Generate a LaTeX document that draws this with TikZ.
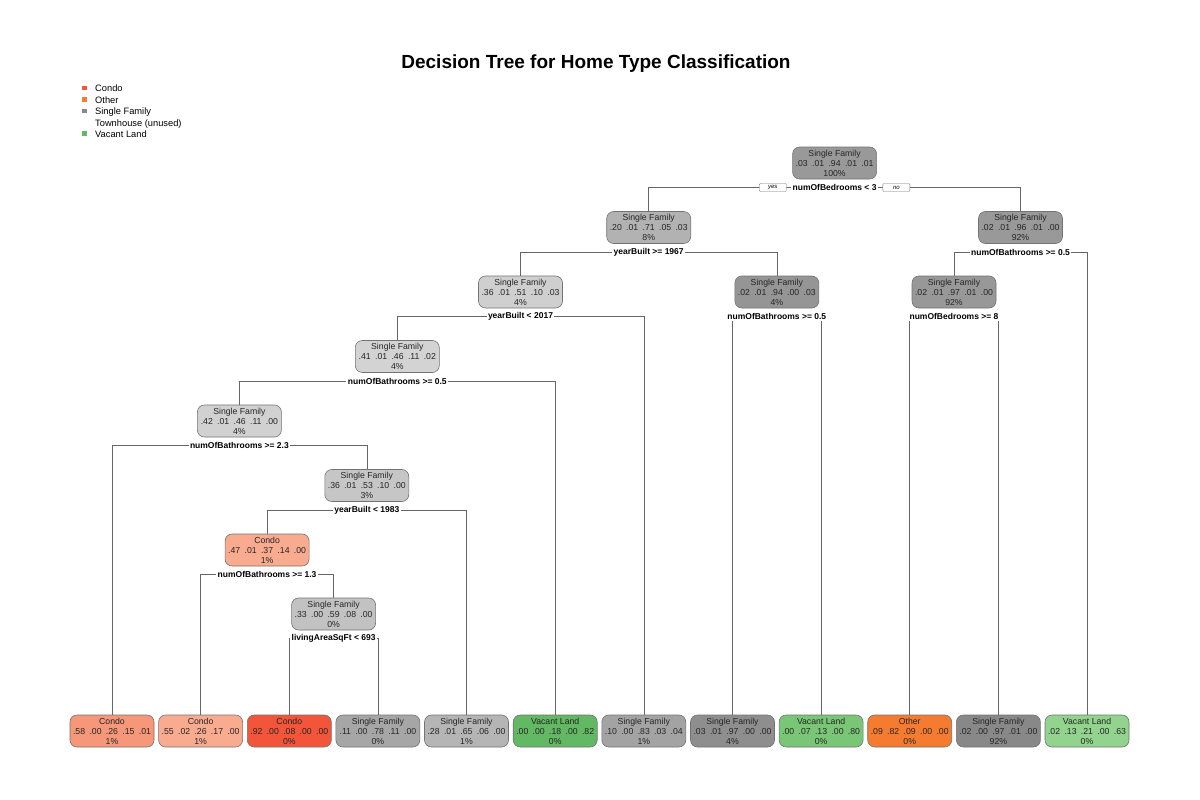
\documentclass[tikz,border=0pt]{standalone}
\usepackage{fontspec}
\setmainfont{Liberation Sans}
\usepackage{xcolor}
\usetikzlibrary{positioning,backgrounds}

% node fills
\definecolor{sf94}{HTML}{999999}
\definecolor{sf71}{HTML}{B2B2B2}
\definecolor{sf51}{HTML}{CFCFCF}
\definecolor{sf46a}{HTML}{D3D3D3}
\definecolor{sf46b}{HTML}{D1D1D1}
\definecolor{sf53}{HTML}{C6C6C6}
\definecolor{sf59}{HTML}{C2C2C2}
\definecolor{sf94b}{HTML}{959595}
\definecolor{sf96}{HTML}{999999}
\definecolor{sf97}{HTML}{989898}
\definecolor{sf78}{HTML}{A6A6A6}
\definecolor{sf65}{HTML}{B5B5B5}
\definecolor{sf83}{HTML}{A3A3A3}
\definecolor{sf97a}{HTML}{8E8E8E}
\definecolor{sf97b}{HTML}{888888}
\definecolor{condo47}{HTML}{F8AB8E}
\definecolor{condo58}{HTML}{F69779}
\definecolor{condo55}{HTML}{F9AB90}
\definecolor{condo92}{HTML}{F2553A}
\definecolor{other82}{HTML}{F57B30}
\definecolor{vl82}{HTML}{63B863}
\definecolor{vl80}{HTML}{7AC677}
\definecolor{vl63}{HTML}{92D48D}

\newcommand{\probs}[5]{#1\hspace{0.5em}#2\hspace{0.5em}#3\hspace{0.5em}#4\hspace{0.5em}#5}

\begin{document}
\begin{tikzpicture}[x=1pt, y=-1pt,
    tnode/.style={draw=black!55, line width=0.6pt, rounded corners=7pt,
      minimum width=84pt, minimum height=32pt, inner sep=1pt, align=center,
      text=black!85, font=\fontsize{8.7}{10}\selectfont},
    split/.style={fill=white, inner sep=1.5pt, font=\bfseries\fontsize{8.5}{10}\selectfont},
    yesno/.style={draw=black!55, fill=white, line width=0.4pt, rounded corners=1pt,
      minimum width=27pt, minimum height=8pt, inner sep=0pt,
      font=\itshape\fontsize{6}{7}\selectfont},
    link/.style={draw=black!60, line width=0.6pt},
    legsq/.style={minimum width=5pt, minimum height=4.5pt, inner sep=0pt},
    legtxt/.style={anchor=base west, inner sep=0pt, font=\fontsize{9.3}{11}\selectfont}]
  \useasboundingbox (0,0) rectangle (1200,800);
  \begin{scope}[on background layer]
    \fill[white] (0,0) rectangle (1200,800);
  \end{scope}

  % title and legend
  \node[anchor=base, inner sep=0pt, font=\bfseries\fontsize{19}{23}\selectfont] (title)
    at (596,69) {Decision Tree for Home Type Classification};
  \node[legsq, fill=condo92] (kcondo) at (84.5,88) {};
  \node[legsq, fill=other82] (kother) at (84.5,99.5) {};
  \node[legsq, fill=sf97b] (ksf) at (84.5,111) {};
  \node[legsq, fill=vl82] (kvl) at (84.5,133.5) {};
  \node[legtxt] (tcondo) at (95,91.5) {Condo};
  \node[legtxt] (tother) at (95,103) {Other};
  \node[legtxt] (tsf) at (95,114.5) {Single Family};
  \node[legtxt] (ttown) at (95,126) {Townhouse (unused)};
  \node[legtxt] (tvl) at (95,137) {Vacant Land};

  % inner nodes
  \node[tnode, fill=sf94] (n1) at (834.6,163) {Single Family\\\probs{.03}{.01}{.94}{.01}{.01}\\100\%};
  \node[tnode, fill=sf71] (n2) at (648.7,227.5) {Single Family\\\probs{.20}{.01}{.71}{.05}{.03}\\8\%};
  \node[tnode, fill=sf96] (n3) at (1020.5,227.5) {Single Family\\\probs{.02}{.01}{.96}{.01}{.00}\\92\%};
  \node[tnode, fill=sf51] (n4) at (520.5,292) {Single Family\\\probs{.36}{.01}{.51}{.10}{.03}\\4\%};
  \node[tnode, fill=sf94b] (n5) at (776.8,292) {Single Family\\\probs{.02}{.01}{.94}{.00}{.03}\\4\%};
  \node[tnode, fill=sf97] (n6) at (954,292) {Single Family\\\probs{.02}{.01}{.97}{.01}{.00}\\92\%};
  \node[tnode, fill=sf46a] (n8) at (397.3,356.5) {Single Family\\\probs{.41}{.01}{.46}{.11}{.02}\\4\%};
  \node[tnode, fill=sf46b] (n16) at (239.4,421) {Single Family\\\probs{.42}{.01}{.46}{.11}{.00}\\4\%};
  \node[tnode, fill=sf53] (n33) at (366.8,485.5) {Single Family\\\probs{.36}{.01}{.53}{.10}{.00}\\3\%};
  \node[tnode, fill=condo47] (n66) at (267.1,550) {Condo\\\probs{.47}{.01}{.37}{.14}{.00}\\1\%};
  \node[tnode, fill=sf59] (n133) at (333.6,614) {Single Family\\\probs{.33}{.00}{.59}{.08}{.00}\\0\%};

  % leaves
  \node[tnode, fill=condo58] (n32) at (112,731) {Condo\\\probs{.58}{.00}{.26}{.15}{.01}\\1\%};
  \node[tnode, fill=condo55] (n132) at (200.6,731) {Condo\\\probs{.55}{.02}{.26}{.17}{.00}\\1\%};
  \node[tnode, fill=condo92] (n266) at (289.3,731) {Condo\\\probs{.92}{.00}{.08}{.00}{.00}\\0\%};
  \node[tnode, fill=sf78] (n267) at (377.9,731) {Single Family\\\probs{.11}{.00}{.78}{.11}{.00}\\0\%};
  \node[tnode, fill=sf65] (n67) at (466.5,731) {Single Family\\\probs{.28}{.01}{.65}{.06}{.00}\\1\%};
  \node[tnode, fill=vl82] (n17) at (555.2,731) {Vacant Land\\\probs{.00}{.00}{.18}{.00}{.82}\\0\%};
  \node[tnode, fill=sf83] (n9) at (643.8,731) {Single Family\\\probs{.10}{.00}{.83}{.03}{.04}\\1\%};
  \node[tnode, fill=sf97a] (n10) at (732.5,731) {Single Family\\\probs{.03}{.01}{.97}{.00}{.00}\\4\%};
  \node[tnode, fill=vl80] (n11) at (821.1,731) {Vacant Land\\\probs{.00}{.07}{.13}{.00}{.80}\\0\%};
  \node[tnode, fill=other82] (n12) at (909.7,731) {Other\\\probs{.09}{.82}{.09}{.00}{.00}\\0\%};
  \node[tnode, fill=sf97b] (n13) at (998.4,731) {Single Family\\\probs{.02}{.00}{.97}{.01}{.00}\\92\%};
  \node[tnode, fill=vl63] (n7) at (1087,731) {Vacant Land\\\probs{.02}{.13}{.21}{.00}{.63}\\0\%};

  % split labels
  \node[split] (s1) at (834.6,187.5) {numOfBedrooms < 3};
  \node[split] (s2) at (648.7,252) {yearBuilt >= 1967};
  \node[split] (s3) at (1020.5,252) {numOfBathrooms >= 0.5};
  \node[split] (s4) at (520.5,316.5) {yearBuilt < 2017};
  \node[split] (s5) at (776.8,316.5) {numOfBathrooms >= 0.5};
  \node[split] (s6) at (954,316.5) {numOfBedrooms >= 8};
  \node[split] (s8) at (397.3,381) {numOfBathrooms >= 0.5};
  \node[split] (s16) at (239.4,445.5) {numOfBathrooms >= 2.3};
  \node[split] (s33) at (366.8,510) {yearBuilt < 1983};
  \node[split] (s66) at (267.1,574.5) {numOfBathrooms >= 1.3};
  \node[split] (s133) at (333.6,638.5) {livingAreaSqFt < 693};

  % branches, behind the labels
  \begin{scope}[on background layer]
    \draw[link] (s1.center) -| (n2) (s1.center) -| (n3);
    \draw[link] (s2.center) -| (n4) (s2.center) -| (n5);
    \draw[link] (s3.center) -| (n6) (s3.center) -| (n7);
    \draw[link] (s4.center) -| (n8) (s4.center) -| (n9);
    \draw[link] (s5.center) -| (n10) (s5.center) -| (n11);
    \draw[link] (s6.center) -| (n12) (s6.center) -| (n13);
    \draw[link] (s8.center) -| (n16) (s8.center) -| (n17);
    \draw[link] (s16.center) -| (n32) (s16.center) -| (n33);
    \draw[link] (s33.center) -| (n66) (s33.center) -| (n67);
    \draw[link] (s66.center) -| (n132) (s66.center) -| (n133);
    \draw[link] (s133.center) -| (n266) (s133.center) -| (n267);
  \end{scope}

  \node[yesno, left=4.5pt of s1] (yes) {yes};
  \node[yesno, right=4.5pt of s1] (no) {no};
\end{tikzpicture}
\end{document}
